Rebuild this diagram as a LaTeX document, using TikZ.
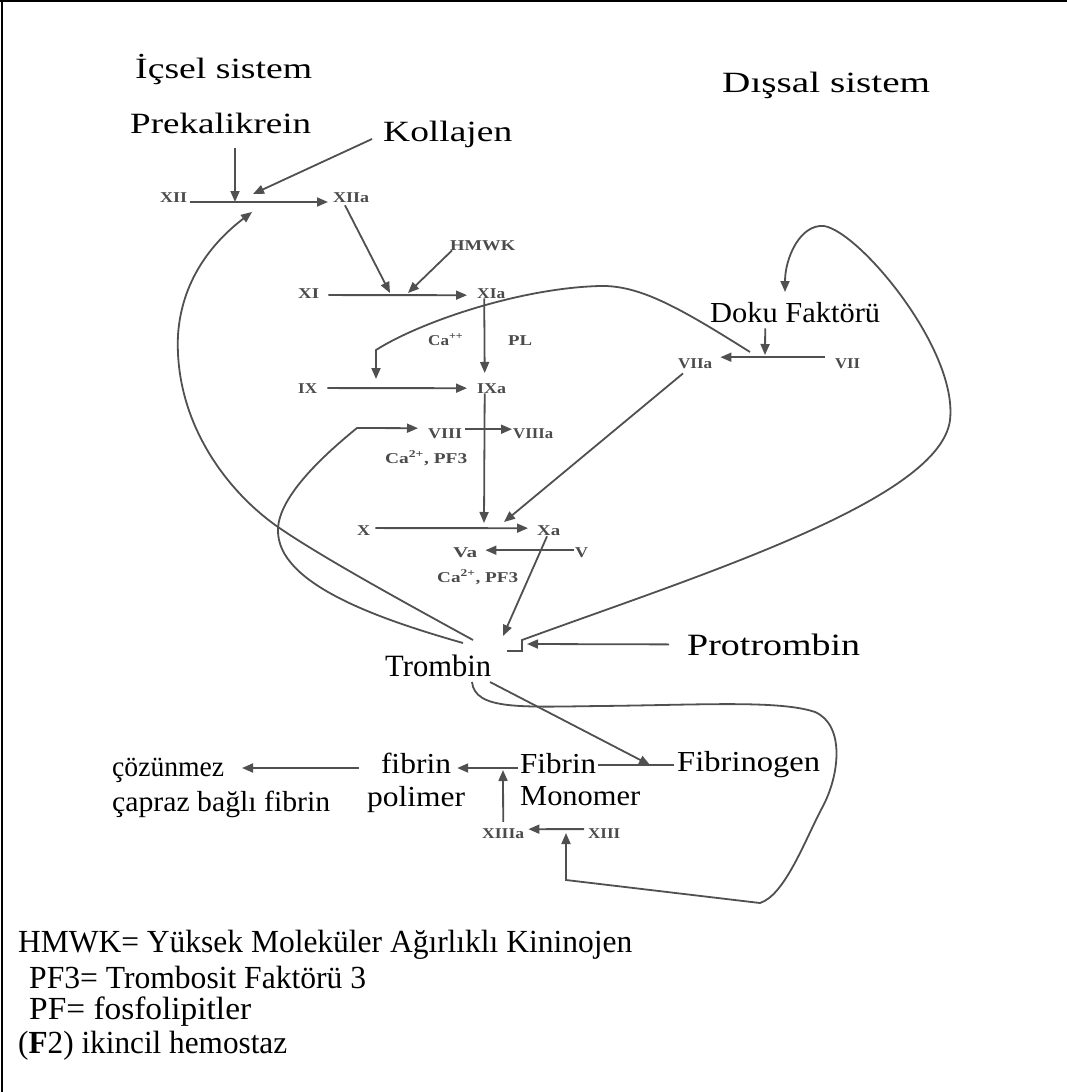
\documentclass[tikz,border=0pt]{standalone}
\usepackage{fontspec}
\setmainfont{Liberation Serif}
\usepackage{graphicx}
\usetikzlibrary{arrows.meta}
\definecolor{labc}{RGB}{75,75,75}
\definecolor{linec}{RGB}{80,80,80}
\newcommand{\fitw}[3]{\resizebox{#1}{\height}{\scalebox{1}[#2]{#3}}}
\begin{document}
\begin{tikzpicture}[x=1pt,y=-1pt,
  sm/.style={anchor=base west,inner sep=0pt,text=labc,font=\fontsize{15}{15}\selectfont\bfseries},
  big/.style={anchor=base west,inner sep=0pt,text=black,font=\fontsize{28}{30}\selectfont},
  bot/.style={inner sep=0pt,text=black,font=\fontsize{29}{30}\selectfont},
  leg/.style={anchor=base west,inner sep=0pt,text=black,font=\fontsize{28}{30}\selectfont},
  arr/.style={draw=linec,line width=1.8pt,-{Triangle[length=11pt,width=9pt]}},
  plain/.style={draw=linec,line width=1.8pt},
  frame/.style={draw=black,line width=2pt}]
\useasboundingbox (0,0) rectangle (1067,1092);
\fill[white] (0,0) rectangle (1067,1092);
\draw[frame] (0,1) -- (1067,1);
\draw[frame] (2,0) -- (2,1092);

% ---- large labels
\node[big] (icsel) at (135,78) {\fitw{177pt}{1.05}{İçsel sistem}};
\node[big] (dissal) at (722,92) {\fitw{208pt}{1.05}{Dışsal sistem}};
\node[big] (prek) at (130,133) {\fitw{181pt}{1.05}{Prekalikrein}};
\node[big] (koll) at (383,141) {\fitw{129pt}{1.05}{Kollajen}};
\node[big,font=\fontsize{29}{30}\selectfont] (doku) at (710,322) {\fitw{170pt}{1}{Doku Faktörü}};
\node[big,font=\fontsize{31}{32}\selectfont] (trom) at (385,676) {\fitw{106pt}{1}{Trombin}};
\node[big,font=\fontsize{31}{32}\selectfont] (prot) at (687,655) {\fitw{173pt}{1}{Protrombin}};

\node[bot,anchor=base west] (cozA) at (112,776) {\fitw{112pt}{1}{çözünmez}};
\node[bot,anchor=base west] (cozB) at (112,811) {\fitw{218pt}{1}{çapraz bağlı fibrin}};
\node[bot,anchor=base] (fibp) at (416,773) {\fitw{70pt}{1}{fibrin}};
\node[bot,anchor=base] (polm) at (416,806) {\fitw{98pt}{1}{polimer}};
\node[bot,anchor=base west] (fibm) at (520,773) {\fitw{76pt}{1}{Fibrin}};
\node[bot,anchor=base west] (mono) at (520,805) {\fitw{120pt}{1}{Monomer}};
\node[bot,anchor=base west] (fibg) at (677,771) {\fitw{143pt}{1}{Fibrinogen}};

% ---- legend
\node[leg] (l1) at (18,952) {\fitw{614pt}{1.15}{HMWK= Yüksek Moleküler Ağırlıklı Kininojen}};
\node[leg] (l2) at (29,988) {\fitw{337pt}{1.15}{PF3= Trombosit Faktörü 3}};
\node[leg] (l3) at (29,1019) {\fitw{222pt}{1.15}{PF= fosfolipitler}};
\node[leg] (l4) at (18,1053) {\fitw{269pt}{1.15}{(\textbf{F}2) ikincil hemostaz}};

% ---- small labels
\node[sm] (nxii) at (160,202) {\fitw{27pt}{1}{XII}};
\node[sm] (nxiia) at (333,202) {\fitw{36pt}{1}{XIIa}};
\node[sm] (nhmwk) at (450,250) {\fitw{65pt}{1}{HMWK}};
\node[sm] (nxi) at (298,298) {\fitw{21pt}{1}{XI}};
\node[sm] (nxia) at (477,298) {\fitw{28pt}{1}{XIa}};
\node[sm] (nca1) at (428,345) {\fitw{35pt}{1}{Ca\textsuperscript{++}}};
\node[sm] (npl) at (508,345) {\fitw{24pt}{1}{PL}};
\node[sm] (nix) at (298,393) {\fitw{19pt}{1}{IX}};
\node[sm] (nixa) at (477,393) {\fitw{29pt}{1}{IXa}};
\node[sm] (nviii) at (428,438) {\fitw{34pt}{1}{VIII}};
\node[sm] (nviiia) at (513,438) {\fitw{40pt}{1}{VIIIa}};
\node[sm] (nca2) at (385,463) {\fitw{82pt}{1}{Ca\textsuperscript{2+}, PF3}};
\node[sm] (nx) at (357,535) {\fitw{13pt}{1}{X}};
\node[sm] (nxa) at (537,535) {\fitw{23pt}{1}{Xa}};
\node[sm] (nva) at (453,557) {\fitw{24pt}{1}{Va}};
\node[sm] (nv) at (575,557) {\fitw{13pt}{1}{V}};
\node[sm] (nca3) at (437,582) {\fitw{81pt}{1}{Ca\textsuperscript{2+}, PF3}};
\node[sm] (nviia) at (678,368) {\fitw{34pt}{1}{VIIa}};
\node[sm] (nvii) at (835,368) {\fitw{25pt}{1}{VII}};
\node[sm] (nxiiia) at (482,838) {\fitw{42pt}{1}{XIIIa}};
\node[sm] (nxiii) at (588,838) {\fitw{32pt}{1}{XIII}};

% ---- named points
\coordinate (pa) at (235,202);
\coordinate (ka) at (253,194);
\coordinate (ta) at (252,212);
\coordinate (xa1) at (390,293);
\coordinate (xa2) at (408,293);
\coordinate (ixt) at (376,379);
\coordinate (vj) at (750,352);
\coordinate (dj) at (765,355);
\coordinate (xt1) at (484,523);
\coordinate (xt2) at (504,522);
\coordinate (trt) at (503,636);
\coordinate (prt) at (527,644);
\coordinate (dkt) at (785,292);
\coordinate (fgt) at (650,765);
\coordinate (fpt) at (503,770);
\coordinate (xiiit) at (566,833);
\coordinate (czt) at (242,768);
\coordinate (t1) at (463,643);
\coordinate (t2) at (473,640);
\coordinate (t3) at (507,651);
\coordinate (t4) at (472,682);
\coordinate (t5) at (490,682);

% ---- connectors
\draw[arr] ([xshift=3pt]nxii.base east) -- ([xshift=-5pt]nxiia.base west);
\draw[arr,shorten <=15pt] (prek.south -| pa) -- (pa);
\draw[arr,shorten <=12pt] (koll.west) -- (ka);
\draw[arr] (t2) .. controls (400,600) and (320,556) .. (278,527)
  .. controls (225,490) and (174,420) .. (178,335)
  .. controls (182,275) and (218,238) .. (ta);
\draw[arr] (nxiia.south west) ++(12,3) -- (xa1);
\draw[arr] (nhmwk.south west) ++(2,0) -- (xa2);
\draw[arr] ([xshift=9pt,yshift=-2pt]nxi.east) -- ([xshift=-10pt,yshift=-2pt]nxia.west);
\draw[arr] ([xshift=-7pt]nxia.south) -- ([xshift=-7pt,yshift=10pt]nixa.north);
\draw[arr] ([xshift=10pt]nix.east) -- ([xshift=-10pt]nixa.west);
\draw[arr] (vj) .. controls (680,308) and (640,285) .. (600,286)
  .. controls (520,288) and (420,322) .. (376,350) -- (ixt);
\draw[arr] ([xshift=-7pt]nixa.south) -- (xt1);
\draw[arr] ([xshift=3pt,yshift=4pt]nviii.east) -- ([xshift=-1pt,yshift=4pt]nviiia.west);
\draw[arr] (t1) .. controls (375,618) and (277,583) .. (278,530)
  .. controls (278,495) and (330,450) .. (357,428) -- ([xshift=-10pt,yshift=5pt]nviii.west);
\draw[arr] ([xshift=5pt,yshift=2pt]nx.east) -- ([xshift=-9pt,yshift=2pt]nxa.west);
\draw[arr] ([shift={(5pt,-5pt)}]nviia.south west) -- (xt2);
\draw[arr] ([xshift=-1pt,yshift=2pt]nv.west) -- ([xshift=8pt,yshift=2pt]nva.east);
\draw[arr] ([shift={(10pt,-1pt)}]nxa.south west) -- (trt);
\draw[arr] ([xshift=-18pt]prot.west) -- (prt);
\draw[arr] (t3) -- ++(15,0) -- ++(0,-11)
  .. controls (700,575) and (940,500) .. (950,420)
  .. controls (958,350) and (860,232) .. (824,226)
  .. controls (800,224) and (785,258) .. (dkt);
\draw[arr] ([xshift=-30pt,yshift=-6pt]doku.south) -- (dj);
\draw[arr] ([xshift=-10pt,yshift=6pt]nvii.west) -- ([xshift=8pt,yshift=6pt]nviia.east);
\draw[arr] (t4) .. controls (475,710) and (520,707) .. (600,706)
  .. controls (700,705) and (780,700) .. (815,712)
  .. controls (845,725) and (840,775) .. (822,808)
  .. controls (805,840) and (785,895) .. (760,903) -- (566,880) -- (xiiit);
\draw[arr] (t5) -- (fgt);
\draw[plain] ([xshift=-3pt]fibg.base west |- fgt) -- ([xshift=2pt]fibm.base east |- fgt);
\draw[arr] ([xshift=-2pt,yshift=5pt]fibm.base west) -- ([xshift=6pt,yshift=5pt]fibp.base east);
\draw[arr] ([yshift=6pt]nxiiia.north) -- (fpt);
\draw[arr] ([xshift=-4pt,yshift=4pt]nxiii.west) -- ([xshift=4pt,yshift=4pt]nxiiia.east);
\draw[arr] ([xshift=-22pt,yshift=5pt]fibp.base west) -- (czt);
\end{tikzpicture}
\end{document}
